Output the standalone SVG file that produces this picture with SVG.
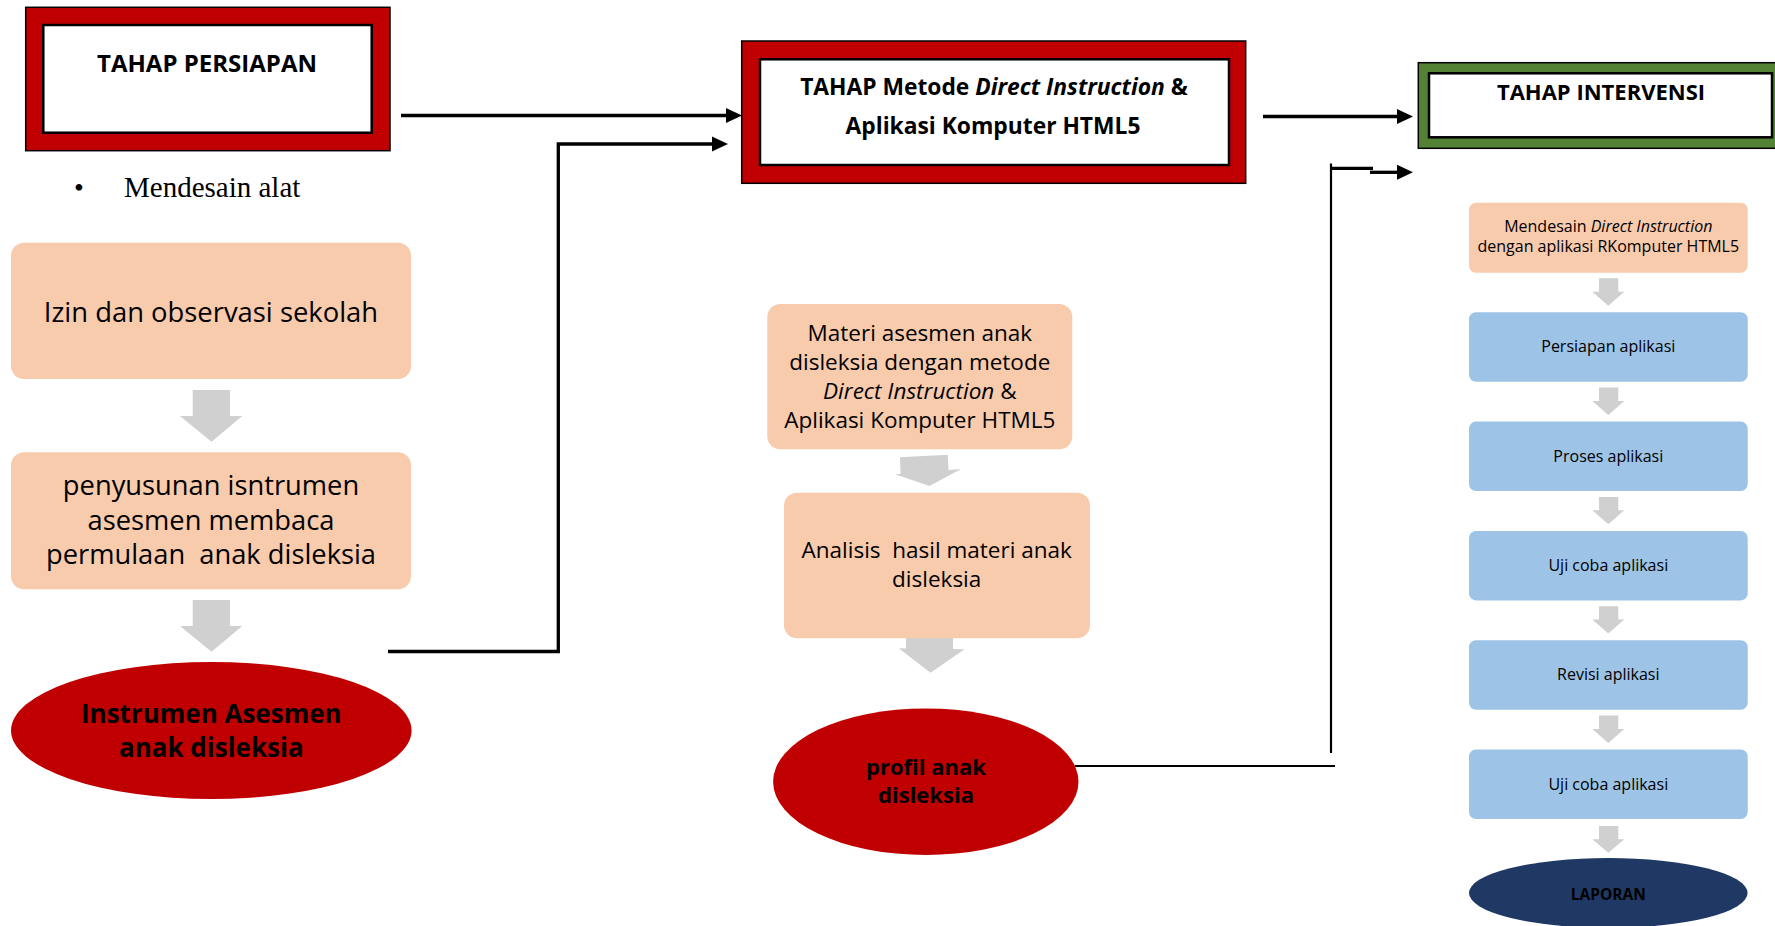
<svg xmlns="http://www.w3.org/2000/svg" width="1775" height="926" viewBox="0 0 1775 926">
<defs>
<style>
.frame-red{fill:#c00000;stroke:#000;stroke-width:1.5}
.frame-green{fill:#548235;stroke:#000;stroke-width:1.5}
.inner{fill:#fff;stroke:#000;stroke-width:2.5}
.orange{fill:#f8cbad}
.blue{fill:#9dc3e6}
.blk{fill:#d0d0d0}
.t{font-family:"Open Sans","Noto Sans",sans-serif;fill:#000;text-anchor:middle}
.b{font-weight:bold}
.i{font-style:italic}
.line{fill:none;stroke:#000;stroke-width:3.3;stroke-linejoin:miter}
.thin{fill:none;stroke:#000;stroke-width:2.2}
.serif{font-family:"Liberation Serif","Times New Roman",serif;fill:#000}
</style>
<marker id="ah" markerUnits="userSpaceOnUse" markerWidth="16" markerHeight="15" refX="0" refY="7.5" orient="auto" overflow="visible"><path d="M0,0 L16,7.5 L0,15 z" fill="#000"/></marker>
</defs>
<rect width="1775" height="926" fill="#fff"/>

<g id="connectors">
<path class="line" d="M401,115.5 H726" marker-end="url(#ah)"/>
<path class="line" d="M388,651.5 H558.3 V144 H712" marker-end="url(#ah)"/>
<path class="line" d="M1263,116.5 H1397" marker-end="url(#ah)"/>
<path class="line" d="M1330,168.3 H1373"/>
<path class="line" d="M1370,172.3 H1397" marker-end="url(#ah)"/>
<path class="thin" d="M1331,163.5 V753"/>
<path class="thin" d="M1075,766 H1335"/>
<polygon class="blk" points="192.7,390 230,390 230,416 242.3,416 211.5,441.7 180,416 192.7,416"/>
<polygon class="blk" points="192.7,600 230,600 230,626 242.3,626 211.5,651.7 180,626 192.7,626"/>
<polygon class="blk" points="900,457.3 947.7,454.7 948.5,470 961,469 929.5,486 895,474.3 900.5,473.9"/>
<polygon class="blk" points="906,622 953,624 953,649 964.6,649.3 930.5,672.7 898.7,648.3 906,648.5"/>
<polygon class="blk" points="1599,278.3 1618.3,278.3 1618.3,291.7 1624.3,291.7 1608.3,305.7 1592.3,291.7 1599,291.7"/>
<polygon class="blk" points="1599,387.6 1618.3,387.6 1618.3,401 1624.3,401 1608.3,415 1592.3,401 1599,401"/>
<polygon class="blk" points="1599,496.9 1618.3,496.9 1618.3,510.3 1624.3,510.3 1608.3,524.3 1592.3,510.3 1599,510.3"/>
<polygon class="blk" points="1599,606.2 1618.3,606.2 1618.3,619.6 1624.3,619.6 1608.3,633.6 1592.3,619.6 1599,619.6"/>
<polygon class="blk" points="1599,715.5 1618.3,715.5 1618.3,728.9 1624.3,728.9 1608.3,742.9 1592.3,728.9 1599,728.9"/>
<polygon class="blk" points="1599,826 1618.3,826 1618.3,839.3 1624.3,839.3 1608.3,852.7 1592.3,839.3 1599,839.3"/>
</g>

<g id="tahap-persiapan">
<rect class="frame-red" x="25.7" y="7.3" width="364.3" height="143.4"/>
<rect class="inner" x="43.3" y="25" width="328.4" height="107.7"/>
<text class="t b" x="207" y="71.7" font-size="24">TAHAP PERSIAPAN</text>
</g>

<g id="bullet-mendesain">
<text class="serif" x="74" y="197" font-size="28">•</text>
<text class="serif" x="124" y="197" font-size="29">Mendesain alat</text>
</g>

<g id="izin">
<rect class="orange" x="11" y="242.7" width="400" height="136.3" rx="13"/>
<text class="t" x="211" y="321.7" font-size="27.4">Izin dan observasi sekolah</text>
</g>

<g id="penyusunan">
<rect class="orange" x="11" y="452.3" width="400" height="137" rx="13"/>
<text class="t" font-size="27.3"><tspan x="211" y="495">penyusunan isntrumen</tspan><tspan x="211" y="529.5">asesmen membaca</tspan><tspan x="211" y="564.3" xml:space="preserve">permulaan  anak disleksia</tspan></text>
</g>

<g id="instrumen">
<ellipse fill="#c00000" cx="211.3" cy="730.5" rx="200.3" ry="68.5"/>
<text class="t b" font-size="26"><tspan x="211.3" y="723">Instrumen Asesmen</tspan><tspan x="211.3" y="756.7">anak disleksia</tspan></text>
</g>

<g id="tahap-metode">
<rect class="frame-red" x="741.7" y="41" width="504" height="142.3"/>
<rect class="inner" x="760" y="59.3" width="469" height="105.7"/>
<text class="t b" font-size="22.8"><tspan x="994" y="95">TAHAP Metode <tspan class="i">Direct Instruction</tspan> &amp;</tspan><tspan x="993" y="134.3">Aplikasi Komputer HTML5</tspan></text>
</g>

<g id="materi">
<rect class="orange" x="767.3" y="304" width="305" height="145.3" rx="13"/>
<text class="t" font-size="22.5"><tspan x="919.8" y="340.7">Materi asesmen anak</tspan><tspan x="919.8" y="370.3">disleksia dengan metode</tspan><tspan x="919.8" y="399.3"><tspan class="i">Direct Instruction</tspan> &amp;</tspan><tspan x="919.8" y="428">Aplikasi Komputer HTML5</tspan></text>
</g>

<g id="analisis">
<rect class="orange" x="784" y="492.7" width="306" height="145.6" rx="13"/>
<text class="t" font-size="22.5"><tspan x="936.7" y="558.3" xml:space="preserve">Analisis  hasil materi anak</tspan><tspan x="936.7" y="586.7">disleksia</tspan></text>
</g>

<g id="profil">
<ellipse fill="#c00000" cx="925.8" cy="781.7" rx="152.7" ry="73.3"/>
<text class="t b" font-size="22"><tspan x="926" y="775">profil anak</tspan><tspan x="926" y="803.3">disleksia</tspan></text>
</g>

<g id="tahap-intervensi">
<rect class="frame-green" x="1418.3" y="62.7" width="370" height="85.6"/>
<rect class="inner" x="1429" y="73.3" width="343" height="64"/>
<text class="t b" x="1601" y="100" font-size="22">TAHAP INTERVENSI</text>
</g>

<g id="mendesain-di">
<rect class="orange" x="1469" y="202.7" width="278.7" height="70" rx="7"/>
<text class="t" font-size="16"><tspan x="1608.3" y="232">Mendesain <tspan class="i">Direct Instruction</tspan></tspan><tspan x="1608.3" y="252">dengan aplikasi RKomputer HTML5</tspan></text>
</g>

<g id="persiapan-aplikasi">
<rect class="blue" x="1469" y="312.3" width="278.7" height="69.5" rx="7"/>
<text class="t" x="1608.3" y="352.3" font-size="16">Persiapan aplikasi</text>
</g>

<g id="proses-aplikasi">
<rect class="blue" x="1469" y="421.6" width="278.7" height="69.5" rx="7"/>
<text class="t" x="1608.3" y="461.6" font-size="16">Proses aplikasi</text>
</g>

<g id="uji-coba-1">
<rect class="blue" x="1469" y="530.9" width="278.7" height="69.5" rx="7"/>
<text class="t" x="1608.3" y="570.9" font-size="16">Uji coba aplikasi</text>
</g>

<g id="revisi-aplikasi">
<rect class="blue" x="1469" y="640.2" width="278.7" height="69.5" rx="7"/>
<text class="t" x="1608.3" y="680.2" font-size="16">Revisi aplikasi</text>
</g>

<g id="uji-coba-2">
<rect class="blue" x="1469" y="749.5" width="278.7" height="69.5" rx="7"/>
<text class="t" x="1608.3" y="789.5" font-size="16">Uji coba aplikasi</text>
</g>

<g id="laporan">
<ellipse fill="#203864" cx="1608.3" cy="893" rx="139.3" ry="35"/>
<text class="t b" x="1608.3" y="900" font-size="15.5">LAPORAN</text>
</g>
</svg>
